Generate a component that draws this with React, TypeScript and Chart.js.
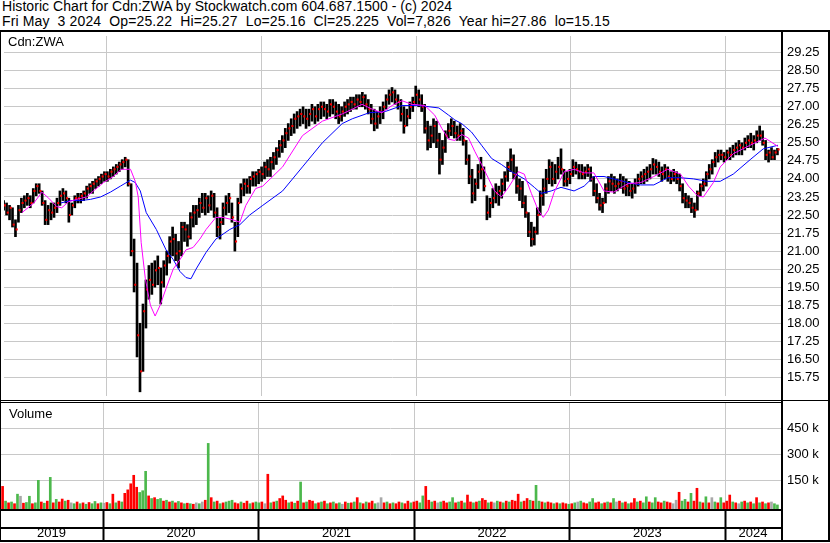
import React, { useEffect, useRef } from 'react';
import { Chart, registerables } from 'chart.js';

Chart.register(...registerables);

const FONT = '"Liberation Sans", Arial, Helvetica, sans-serif';
const TITLE = 'Historic Chart for Cdn:ZWA by Stockwatch.com 604.687.1500 - (c) 2024';
const SUBTITLE = 'Fri May  3 2024  Op=25.22  Hi=25.27  Lo=25.16  Cl=25.225  Vol=7,826  Year hi=27.86  lo=15.15';
const SYMBOL = 'Cdn:ZWA';
const VOLUME_TITLE = 'Volume';

// x axis: weeks since 2019-05-03
const X_MIN = 0.13;
const X_MAX = 262.2;
const YEAR_BOUNDARIES = [34.71, 87.0, 139.14, 191.29, 243.43];
const YEAR_LABELS = ['2019', '2020', '2021', '2022', '2023', '2024'];

const PRICE_MIN = 14.976;
const PRICE_MAX = 29.941;
const PRICE_TICKS = [15.75, 16.5, 17.25, 18.0, 18.75, 19.5, 20.25, 21.0, 21.75, 22.5, 23.25, 24.0, 24.75, 25.5, 26.25, 27.0, 27.75, 28.5, 29.25];

const VOLUME_MIN = -15500;
const VOLUME_MAX = 596000;
const VOLUME_TICKS = [150000, 300000, 450000];

// weekly bars
const HIGH = [
  23.1, 23.0, 22.9, 22.8, 22.3, 22.9, 23.2, 23.3, 23.4, 23.3,
  23.6, 23.8, 23.8, 23.5, 23.1, 22.9, 23.0, 23.0, 23.2, 23.5,
  23.6, 23.5, 23.2, 23.0, 23.3, 23.4, 23.4, 23.5, 23.7, 23.8,
  23.9, 24.0, 24.1, 24.2, 24.3, 24.3, 24.4, 24.5, 24.6, 24.7,
  24.8, 24.9, 24.8, 23.8, 21.5, 20.5, 18.0, 18.8, 19.8, 20.4,
  20.5, 20.6, 20.8, 20.3, 20.6, 21.0, 21.6, 22.0, 21.7, 21.4,
  22.2, 22.2, 22.1, 22.6, 22.9, 22.9, 23.2, 23.4, 23.4, 23.3,
  23.5, 23.4, 22.8, 22.4, 23.0, 23.3, 23.4, 23.0, 22.2, 23.2,
  23.8, 24.0, 24.0, 24.1, 24.3, 24.3, 24.4, 24.5, 24.7, 24.8,
  24.9, 25.1, 25.3, 25.6, 25.8, 26.1, 26.3, 26.5, 26.7, 26.8,
  26.9, 27.0, 26.9, 26.9, 27.1, 27.0, 27.1, 27.2, 27.2, 27.1,
  27.3, 27.3, 27.2, 27.1, 27.0, 27.2, 27.3, 27.4, 27.4, 27.5,
  27.5, 27.6, 27.5, 27.3, 27.1, 26.9, 26.8, 27.0, 27.2, 27.5,
  27.7, 27.8, 27.7, 27.5, 27.3, 27.0, 26.9, 27.2, 27.4, 27.86,
  27.7, 27.5, 27.1, 26.4, 26.2, 26.5, 26.4, 25.9, 25.6, 26.0,
  26.3, 26.5, 26.4, 26.2, 26.3, 26.1, 25.6, 25.0, 24.4, 24.0,
  24.6, 24.9, 24.5, 23.3, 23.2, 23.6, 23.8, 23.7, 24.0, 24.3,
  24.7, 25.25, 25.0, 24.5, 24.0, 23.9, 23.3, 22.6, 22.2, 22.0,
  22.8, 23.5, 24.0, 24.4, 24.8, 24.7, 24.6, 24.9, 25.25, 24.4,
  24.3, 24.4, 24.8, 24.7, 24.6, 24.6, 24.5, 24.6, 24.5, 24.1,
  23.8, 23.4, 23.2, 23.8, 24.1, 24.2, 24.1, 24.0, 24.2, 24.1,
  24.0, 23.9, 23.8, 24.0, 24.2, 24.3, 24.4, 24.5, 24.6, 24.85,
  24.8, 24.7, 24.5, 24.6, 24.5, 24.3, 24.4, 24.3, 24.2, 23.8,
  23.4, 23.3, 23.2, 23.0, 23.5, 23.8, 24.0, 24.3, 24.6, 24.8,
  25.1, 25.2, 25.2, 25.1, 25.2, 25.3, 25.4, 25.5, 25.6, 25.5,
  25.7, 25.8, 25.9, 25.8, 26.0, 26.2, 26.0, 25.6, 25.2, 25.3, 25.2, 25.27,
];
const LOW = [
  22.7, 22.5, 22.3, 22.0, 21.6, 22.2, 22.6, 22.8, 22.9, 22.8,
  23.0, 23.3, 23.4, 22.9, 22.1, 22.1, 22.3, 22.4, 22.6, 22.9,
  23.1, 23.0, 22.2, 22.5, 22.8, 23.0, 23.0, 23.1, 23.2, 23.4,
  23.4, 23.6, 23.7, 23.8, 23.9, 23.9, 24.0, 24.1, 24.2, 24.3,
  24.4, 24.5, 23.7, 20.8, 19.3, 16.6, 15.15, 16.0, 17.8, 19.0,
  19.2, 19.5, 19.6, 18.8, 19.5, 20.0, 20.5, 20.8, 20.6, 20.3,
  20.8, 21.4, 21.2, 21.5, 22.0, 22.1, 22.4, 22.6, 22.5, 22.6,
  22.7, 22.4, 21.6, 21.5, 22.1, 22.5, 22.6, 22.2, 21.0, 21.6,
  23.0, 23.3, 23.4, 23.4, 23.7, 23.7, 23.8, 23.9, 24.0, 24.1,
  24.1, 24.4, 24.6, 24.9, 25.1, 25.3, 25.6, 25.8, 25.9, 26.1,
  26.2, 26.3, 26.1, 26.2, 26.4, 26.3, 26.4, 26.5, 26.6, 26.5,
  26.6, 26.7, 26.5, 26.3, 26.4, 26.6, 26.7, 26.8, 26.9, 26.9,
  27.0, 27.0, 26.9, 26.7, 26.3, 26.0, 26.1, 26.3, 26.5, 26.9,
  27.1, 27.2, 27.1, 26.9, 26.4, 25.9, 26.2, 26.5, 26.8, 27.1,
  27.0, 26.8, 25.9, 25.2, 25.3, 25.5, 25.3, 24.2, 24.6, 25.1,
  25.7, 25.8, 25.7, 25.6, 25.6, 25.4, 24.6, 23.8, 23.0, 23.1,
  23.6, 24.0, 23.5, 22.3, 22.4, 22.8, 23.0, 22.9, 23.2, 23.5,
  23.9, 24.3, 24.0, 23.4, 23.1, 22.8, 22.4, 21.6, 21.2, 21.25,
  21.7, 22.5, 22.9, 23.4, 23.8, 23.7, 23.8, 24.0, 24.2, 23.7,
  23.7, 23.8, 24.1, 24.2, 24.0, 24.0, 24.0, 24.1, 23.9, 23.3,
  23.0, 22.7, 22.6, 23.0, 23.4, 23.5, 23.4, 23.5, 23.6, 23.4,
  23.3, 23.3, 23.2, 23.4, 23.7, 23.8, 23.8, 23.9, 24.0, 24.2,
  24.2, 24.1, 23.9, 24.0, 23.9, 23.8, 23.9, 23.8, 23.5, 23.0,
  22.8, 22.8, 22.6, 22.4, 22.7, 23.3, 23.5, 23.7, 24.0, 24.2,
  24.5, 24.7, 24.8, 24.7, 24.8, 24.8, 24.9, 25.0, 25.0, 25.0,
  25.2, 25.3, 25.3, 25.2, 25.5, 25.6, 25.4, 24.8, 24.7, 24.8, 24.8, 25.0,
];
const CLOSE = [
  22.9, 22.6, 22.8, 22.1, 21.9, 22.7, 23.0, 23.1, 23.2, 23.0,
  23.5, 23.7, 23.5, 23.0, 22.3, 22.7, 22.6, 22.8, 23.0, 23.3,
  23.4, 23.2, 22.5, 22.9, 23.2, 23.2, 23.3, 23.4, 23.6, 23.7,
  23.8, 23.9, 24.0, 24.1, 24.2, 24.1, 24.3, 24.4, 24.5, 24.6,
  24.7, 24.8, 23.8, 21.0, 19.6, 17.5, 16.0, 18.5, 19.4, 19.8,
  19.6, 20.2, 20.3, 19.7, 20.4, 20.8, 21.4, 21.5, 20.9, 21.0,
  22.0, 21.9, 21.6, 22.4, 22.6, 22.7, 23.0, 22.8, 23.2, 22.9,
  23.3, 22.6, 22.0, 22.2, 22.8, 23.0, 23.2, 22.4, 21.4, 23.0,
  23.6, 23.8, 23.7, 24.0, 24.1, 24.2, 24.3, 24.2, 24.5, 24.4,
  24.7, 24.9, 25.2, 25.4, 25.6, 25.9, 26.1, 26.2, 26.5, 26.6,
  26.7, 26.6, 26.5, 26.7, 26.9, 26.6, 26.9, 27.0, 26.9, 26.8,
  27.1, 27.0, 26.8, 26.6, 26.8, 27.0, 27.1, 27.2, 27.1, 27.3,
  27.2, 27.4, 27.1, 26.9, 26.5, 26.3, 26.6, 26.8, 27.0, 27.3,
  27.5, 27.6, 27.3, 27.2, 26.7, 26.2, 26.6, 27.0, 27.2, 27.5,
  27.3, 27.0, 26.1, 25.6, 25.8, 26.2, 25.6, 24.8, 25.3, 25.8,
  26.0, 26.2, 25.9, 25.8, 26.0, 25.6, 24.8, 24.1, 23.4, 23.8,
  24.3, 24.4, 23.7, 22.6, 23.0, 23.2, 23.4, 23.5, 23.8, 24.1,
  24.5, 24.8, 24.2, 23.7, 23.6, 23.0, 22.6, 21.8, 21.5, 21.8,
  22.5, 23.3, 23.6, 24.0, 24.5, 24.0, 24.3, 24.5, 24.4, 23.9,
  24.0, 24.2, 24.5, 24.4, 24.3, 24.2, 24.3, 24.4, 24.0, 23.5,
  23.2, 22.9, 23.0, 23.6, 23.9, 23.8, 23.7, 23.8, 23.9, 23.6,
  23.7, 23.5, 23.6, 23.8, 24.0, 24.1, 24.2, 24.3, 24.4, 24.6,
  24.5, 24.3, 24.2, 24.4, 24.1, 24.0, 24.2, 24.0, 23.7, 23.2,
  23.1, 23.0, 22.8, 22.7, 23.4, 23.7, 23.8, 24.2, 24.4, 24.7,
  24.9, 25.0, 25.0, 24.9, 25.1, 25.0, 25.2, 25.3, 25.4, 25.3,
  25.5, 25.6, 25.5, 25.6, 25.8, 25.8, 25.5, 25.0, 25.1, 24.9, 25.1, 25.225,
];

// moving averages: [week, value]
const MA_FAST_WEEK = [6.2, 10.2, 12.9, 15.2, 17.9, 19.6, 21.9, 24.6, 28.0, 30.3, 33.7, 37.0, 39.7, 42.8, 44.4, 45.4, 46.4, 47.8, 49.5, 51.1, 52.8, 54.8, 57.2, 59.5, 61.5, 63.9, 66.2, 68.3, 71.6, 74.0, 77.3, 79.7, 81.7, 85.0, 87.4, 94.1, 100.8, 107.5, 114.2, 117.6, 120.9, 124.3, 127.6, 131.0, 134.4, 137.7, 142.1, 145.4, 147.8, 150.1, 152.2, 154.5, 156.8, 158.9, 161.2, 163.6, 165.6, 167.9, 170.3, 173.6, 175.6, 178.0, 180.3, 182.0, 183.7, 185.7, 189.1, 192.4, 195.8, 199.1, 202.5, 205.8, 210.5, 214.9, 219.3, 224.0, 228.3, 231.0, 234.0, 236.0, 239.4, 241.7, 246.1, 251.8, 256.8, 261.2];
const MA_FAST = [22.6, 23.0, 23.45, 23.2, 22.85, 22.8, 23.05, 23.15, 23.25, 23.5, 23.85, 24.1, 24.4, 24.4, 23.9, 23.25, 21.35, 19.85, 18.75, 18.3, 18.75, 19.45, 20.25, 20.65, 21.05, 21.15, 21.5, 21.9, 22.4, 22.4, 22.3, 22.2, 22.9, 23.6, 23.7, 24.5, 25.8, 26.4, 26.7, 26.9, 27.1, 26.9, 26.75, 27.05, 27.25, 27.1, 27.05, 26.65, 26.1, 25.65, 25.6, 25.85, 25.7, 25.15, 24.6, 24.0, 23.5, 23.25, 23.65, 24.3, 24.2, 23.4, 22.7, 22.4, 22.7, 23.45, 24.3, 24.4, 24.25, 24.25, 23.5, 23.45, 23.8, 23.85, 24.1, 24.4, 24.2, 23.7, 23.3, 23.25, 23.85, 24.5, 25.05, 25.4, 25.7, 25.35];
const MA_SLOW_WEEK = [19.3, 22.6, 26.0, 29.3, 32.7, 36.0, 39.4, 42.8, 44.4, 46.1, 48.1, 51.5, 54.8, 57.2, 59.5, 61.5, 63.2, 64.9, 68.3, 71.6, 76.3, 79.7, 83.0, 87.4, 94.1, 100.8, 107.5, 114.2, 117.6, 123.3, 128.7, 134.4, 140.1, 146.8, 150.1, 152.2, 154.5, 157.8, 161.2, 164.6, 167.9, 171.3, 175.6, 179.0, 181.3, 184.7, 188.0, 192.4, 195.8, 199.1, 202.5, 205.8, 210.5, 214.9, 219.3, 224.0, 228.3, 232.7, 237.4, 241.7, 246.1, 251.8, 256.2, 261.2];
const MA_SLOW = [23.0, 23.1, 23.1, 23.15, 23.25, 23.45, 23.7, 23.95, 23.85, 23.5, 22.6, 21.9, 21.05, 20.65, 20.15, 19.9, 19.85, 20.25, 20.95, 21.5, 21.9, 22.1, 22.5, 22.9, 23.5, 24.5, 25.5, 26.3, 26.5, 26.75, 26.8, 27.05, 27.05, 26.95, 26.65, 26.45, 26.3, 25.95, 25.4, 24.85, 24.6, 24.3, 24.0, 23.65, 23.4, 23.5, 23.65, 23.5, 23.7, 24.1, 24.1, 24.0, 23.85, 23.75, 23.75, 24.05, 24.05, 24.0, 23.9, 23.9, 24.2, 24.8, 25.25, 25.4];

// volume (thousands) per week and direction: G up, R down, N unchanged
const VOLUME_K = [
  45, 115, 30, 20, 25, 15, 70, 58, 18, 22, 58, 15,
  20, 150, 25, 18, 30, 167, 20, 40, 25, 42, 30,
  35, 20, 15, 25, 15, 20, 12, 22, 15, 28, 15, 20,
  18, 22, 15, 70, 20, 30, 25,
  75, 95, 130, 179, 110, 80, 90, 202, 60, 45, 50, 40,
  45, 30, 35, 25, 30, 20, 28, 20, 15, 18, 15, 12, 20, 15, 25, 35,
  363, 50, 25, 30, 15, 20, 25, 30, 35, 20, 15, 25, 18, 30, 15, 20, 25,
  20, 25, 15, 185, 20, 25, 30, 45, 60, 35, 20, 25, 18, 30,
  140, 20, 25, 35, 30, 15, 20, 25, 30, 15, 20, 25, 15, 20, 12, 25, 18,
  20, 25, 50, 20, 15, 25, 20, 30, 15, 20, 50, 20, 25,
  15, 20, 15, 25, 20, 15, 30, 20, 25, 30, 20,
  60, 115, 35, 25, 30, 20, 25, 30, 20, 25, 50, 20, 25, 30, 20, 65, 25, 20, 25, 30,
  45, 35, 20, 25, 20, 30, 25, 20, 30, 25, 35, 30, 70, 25, 30, 45, 35, 30, 121, 30,
  25, 20, 25, 20, 15, 20, 15, 20, 15, 12,
  15, 20, 25, 30, 20, 15, 25, 45, 20, 25, 15, 20, 25, 20, 45, 25, 30, 20, 25, 15,
  20, 45, 25, 30, 20, 55, 25, 20, 50, 25, 20, 30, 25, 20, 15, 35, 81, 30, 40, 25,
  75, 30, 104, 25, 20, 55, 20, 50, 25, 20, 50, 20,
  30, 65, 25, 20, 15, 25, 30, 20, 25, 15, 50, 20, 25, 15, 20, 25, 15, 8,
];
const VOLUME_DIR = [
  'GRGRGRGNRGGR', 'GGRGRGRGRRG', 'RNGRGRGRGGRG', 'NRGRGRG', 'RRRRRGGGRGRG',
  'GRGRGRGRGRGRNGNR', 'GRGRGRGGGRRGRRGRG', 'GRNRGRGRRRGRGR', 'GRGRRGRGRGRGRGNRG',
  'RGRGRGRRGNNRG', 'RGRRGRRGRRG',
  'GRRGRNGRRGGRGRGRRGRGRRGRNGRGRGRRRGRRGRGGRGRRGRGRRG',
  'RGNGRRGGRRGRGRGNRGRGRRGRGGRGGRRGRRNNRGGRGRRGRGRNGRGR',
  'RRGRNGRGRGRGRGRNGG',
].join('');

const DIR_COLORS: Record<string, string> = { G: '#4cb84c', R: '#ff0000', N: '#a8a8a8' };
const GRID = '#c8c8c8';

const noPad = (s: any) => {
  s.paddingTop = 0;
  s.paddingBottom = 0;
  s.paddingLeft = 0;
  s.paddingRight = 0;
};

export default function App() {
  const priceRef = useRef<HTMLCanvasElement | null>(null);
  const volRef = useRef<HTMLCanvasElement | null>(null);

  useEffect(() => {
    const price = new Chart(priceRef.current as HTMLCanvasElement, {
      type: 'bar',
      data: {
        datasets: [
          {
            type: 'line',
            data: MA_FAST_WEEK.map((w, i) => ({ x: w, y: MA_FAST[i] })),
            borderColor: '#ff00ff',
            borderWidth: 1,
            pointRadius: 0,
            order: 0,
          } as any,
          {
            type: 'line',
            data: MA_SLOW_WEEK.map((w, i) => ({ x: w, y: MA_SLOW[i] })),
            borderColor: '#0000ff',
            borderWidth: 1,
            pointRadius: 0,
            order: 1,
          } as any,
          {
            type: 'line',
            data: CLOSE.map((c, i) => ({ x: i + 0.4, y: c })),
            showLine: false,
            pointStyle: 'rect',
            pointRadius: 1.45,
            pointBorderWidth: 0,
            pointBackgroundColor: '#ff0000',
            order: 2,
          } as any,
          {
            type: 'bar',
            data: HIGH.map((h, i) => ({ x: i, y: [LOW[i], h] })),
            backgroundColor: '#000000',
            barThickness: 2,
            order: 3,
          } as any,
        ],
      },
      options: {
        animation: false,
        responsive: false,
        maintainAspectRatio: false,
        devicePixelRatio: 1,
        layout: { padding: 0 },
        plugins: { legend: { display: false }, tooltip: { enabled: false } },
        scales: {
          x: {
            type: 'linear',
            min: X_MIN,
            max: X_MAX,
            offset: false,
            grid: { color: GRID, drawTicks: false, offset: false },
            border: { display: false },
            ticks: { display: false },
            afterBuildTicks: (s: any) => { s.ticks = YEAR_BOUNDARIES.map((v) => ({ value: v })); },
            afterFit: (s: any) => { s.height = 0; noPad(s); },
          },
          y: {
            position: 'right',
            min: PRICE_MIN,
            max: PRICE_MAX,
            grid: { color: GRID, drawTicks: false },
            border: { display: false },
            ticks: {
              color: '#000',
              padding: 6,
              crossAlign: 'near',
              font: { family: FONT, size: 13 },
              callback: (v: any) => Number(v).toFixed(2),
            },
            afterBuildTicks: (s: any) => { s.ticks = PRICE_TICKS.map((v) => ({ value: v })); },
            afterFit: (s: any) => { s.width = 49; noPad(s); },
          },
        } as any,
      },
    });

    const segs = [X_MIN, ...YEAR_BOUNDARIES, X_MAX];
    const mids = YEAR_LABELS.map((_, i) => (segs[i] + segs[i + 1]) / 2);
    const labelAt = new Map<number, string>();
    mids.forEach((m, i) => labelAt.set(m, YEAR_LABELS[i]));
    const isBoundary = (v: number) => YEAR_BOUNDARIES.includes(v);

    const vol = new Chart(volRef.current as HTMLCanvasElement, {
      type: 'bar',
      data: {
        datasets: [
          {
            type: 'bar',
            data: VOLUME_K.map((v, i) => ({ x: i, y: v * 1000 })),
            backgroundColor: VOLUME_K.map((_, i) => DIR_COLORS[VOLUME_DIR[i]] || DIR_COLORS.N),
            barThickness: 2,
            base: VOLUME_MIN,
          } as any,
        ],
      },
      options: {
        animation: false,
        responsive: false,
        maintainAspectRatio: false,
        devicePixelRatio: 1,
        layout: { padding: 0 },
        plugins: { legend: { display: false }, tooltip: { enabled: false } },
        scales: {
          x: {
            type: 'linear',
            min: X_MIN,
            max: X_MAX,
            offset: false,
            grid: {
              offset: false,
              drawTicks: true,
              tickLength: 32,
              color: (c: any) => (c.tick && isBoundary(c.tick.value) ? GRID : 'rgba(0,0,0,0)'),
              tickColor: (c: any) => (c.tick && isBoundary(c.tick.value) ? '#000' : 'rgba(0,0,0,0)'),
              tickWidth: 2,
              lineWidth: 1,
            },
            border: { display: false },
            ticks: {
              autoSkip: false,
              maxRotation: 0,
              color: '#000',
              padding: -15,
              font: { family: FONT, size: 13 },
              callback: (v: any) => labelAt.get(Number(v)) || '',
            },
            afterBuildTicks: (s: any) => {
              s.ticks = [...YEAR_BOUNDARIES, ...mids].sort((a, b) => a - b).map((v) => ({ value: v }));
            },
            afterFit: (s: any) => { s.height = 34; noPad(s); },
          },
          y: {
            position: 'right',
            min: VOLUME_MIN,
            max: VOLUME_MAX,
            grid: { color: GRID, drawTicks: false },
            border: { display: false },
            ticks: {
              color: '#000',
              padding: 6,
              crossAlign: 'near',
              font: { family: FONT, size: 13 },
              callback: (v: any) => `${Math.round(Number(v) / 1000)} k`,
            },
            afterBuildTicks: (s: any) => { s.ticks = VOLUME_TICKS.map((v) => ({ value: v })); },
            afterFit: (s: any) => { s.width = 49; noPad(s); },
          },
        } as any,
      },
    });

    return () => {
      price.destroy();
      vol.destroy();
    };
  }, []);

  const line = (left: number, top: number, width: number, height: number) => (
    <div style={{ position: 'absolute', left, top, width, height, background: '#000' }} />
  );

  return (
    <div style={{ position: 'absolute', left: 0, top: 0, width: 830, height: 543, background: '#fff', overflow: 'hidden', fontFamily: FONT, color: '#000' }}>
      <div style={{ position: 'absolute', left: 2, top: -2, fontSize: 14, lineHeight: '16px', whiteSpace: 'pre', letterSpacing: '0.06px' }}>{TITLE}</div>
      <div style={{ position: 'absolute', left: 2, top: 13, fontSize: 14, lineHeight: '16px', whiteSpace: 'pre', letterSpacing: '0.13px' }}>{SUBTITLE}</div>
      <canvas ref={priceRef} width={830} height={368} style={{ position: 'absolute', left: 0, top: 32, width: 830, height: 368 }} />
      <canvas ref={volRef} width={830} height={140} style={{ position: 'absolute', left: 0, top: 403, width: 830, height: 140 }} />
      <div style={{ position: 'absolute', left: 8, top: 34, fontSize: 13, lineHeight: '15px', whiteSpace: 'pre' }}>{SYMBOL}</div>
      <div style={{ position: 'absolute', left: 9, top: 406, fontSize: 13, lineHeight: '15px', whiteSpace: 'pre' }}>{VOLUME_TITLE}</div>
      {line(0, 30, 830, 2)}
      {line(0, 30, 1, 512)}
      {line(828, 30, 2, 512)}
      {line(781, 30, 2, 512)}
      {line(0, 400, 830, 1)}
      {line(0, 402, 783, 1)}
      {line(0, 509, 783, 2)}
      {line(0, 527, 783, 2)}
      {line(0, 540, 830, 2)}
    </div>
  );
}
